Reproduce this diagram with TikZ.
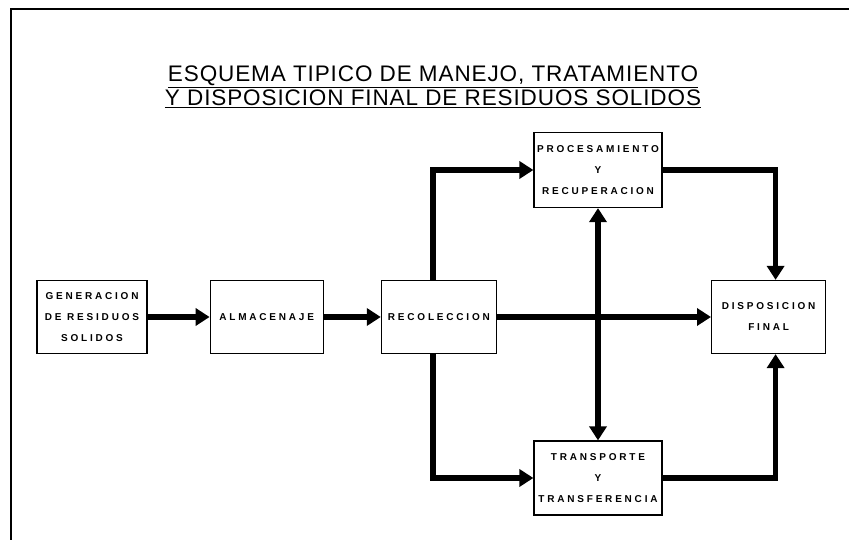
\documentclass[tikz,border=0pt]{standalone}
\usepackage{fontspec}
\setmainfont{Liberation Sans}
\newfontfamily\cajafont[LetterSpace=28]{Liberation Sans}
\newfontfamily\titulofont[LetterSpace=4]{Liberation Sans}
\usetikzlibrary{arrows.meta,positioning}
\tikzset{
    caja/.style={
        draw,
        line width=1.2pt,
        align=center,
        minimum height=73pt,
        inner sep=1pt,
        font=\cajafont\bfseries\fontsize{10}{21}\selectfont
    },
    titulo/.style={
        align=center,
        font=\titulofont\fontsize{22.5}{24.5}\selectfont
    },
    flecha/.style={
        -{Triangle[length=14pt,width=17pt]},
        line width=5.5pt
    },
    flechadoble/.style={
        {Triangle[length=14pt,width=17pt]}-{Triangle[length=14pt,width=17pt]},
        line width=5.5pt
    },
    marco/.style={line width=1.6pt}
}

\begin{document}
\begin{tikzpicture}[x=1pt, y=1pt, node distance=60pt]

\useasboundingbox (0,0) rectangle (849,540);
\draw[marco] (11,0) -- (11,531) -- (849,531);

\node[titulo] (titulo) at (433,453)
    {\underline{ESQUEMA TIPICO DE MANEJO, TRATAMIENTO}\\
     \underline{Y DISPOSICION FINAL DE RESIDUOS SOLIDOS}};

% fila principal
\node[caja, minimum width=110pt] (generacion) at (92,223)
    {GENERACION\\DE RESIDUOS\\SOLIDOS};
\node[caja, minimum width=113pt, right=62pt of generacion] (almacenaje)
    {ALMACENAJE};
\node[caja, minimum width=115pt, right=57pt of almacenaje] (recoleccion)
    {RECOLECCION};
\node[caja, minimum width=114pt, right=214pt of recoleccion] (disposicion)
    {DISPOSICION\\FINAL};

% ramas
\node[caja, minimum width=128pt, minimum height=75pt] (procesamiento)
    at (598,370) {PROCESAMIENTO\\Y\\RECUPERACION};
\node[caja, minimum width=128pt, minimum height=74pt] (transporte)
    at (598,62) {TRANSPORTE\\Y\\TRANSFERENCIA};

\draw[flecha] (generacion) -- (almacenaje);
\draw[flecha] (almacenaje) -- (recoleccion);
\draw[flecha] (recoleccion) -- (disposicion);
\draw[flecha] ([xshift=-6pt]recoleccion.north) |- (procesamiento.west);
\draw[flecha] ([xshift=-6pt]recoleccion.south) |- (transporte.west);
\draw[flecha] (procesamiento.east) -| ([xshift=7pt]disposicion.north);
\draw[flecha] (transporte.east) -| ([xshift=7pt]disposicion.south);
\draw[flechadoble] (procesamiento.south) -- (transporte.north);

\end{tikzpicture}
\end{document}
